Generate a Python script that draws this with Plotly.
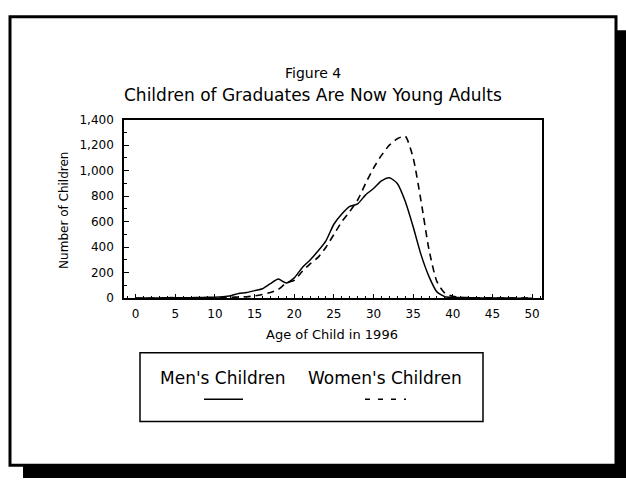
import plotly.graph_objects as go

# ---- data ----
ages = list(range(0, 51))
mens_children = [2, 2, 3, 3, 5, 5, 4, 5, 6, 7,
                 8, 12, 20, 38, 45, 60, 75, 115, 150, 120,
                 160, 240, 300, 370, 450, 580, 660, 720, 740, 810,
                 860, 920, 945, 900, 760, 560, 340, 170, 50, 12,
                 8, 5, 4, 3, 3, 3, 2, 2, 1, 1, 1]
womens_children = [0, 0, 0, 0, 1, 1, 1, 1, 2, 2,
                   3, 5, 8, 10, 12, 18, 30, 45, 70, 120,
                   140, 210, 270, 320, 400, 500, 600, 680, 770, 900,
                   1020, 1120, 1200, 1250, 1270, 1100, 760, 380, 130, 40,
                   15, 8, 5, 4, 3, 3, 2, 2, 1, 1, 1]
x_ticks = list(range(0, 51, 5))
y_ticks = list(range(0, 1401, 200))

title1 = "Figure 4"
title2 = "Children of Graduates Are Now Young Adults"
x_title = "Age of Child in 1996"
y_title = "Number of Children"
series_names = ["Men's Children", "Women's Children"]

W, H = 626, 481
def px(x):
    return x / W
def py(y):
    return 1 - y / H

FONT = "DejaVu Sans"

fig = go.Figure()
fig.add_trace(go.Scatter(x=ages, y=mens_children, mode="lines", name=series_names[0],
                         line=dict(color="black", width=1.5, shape="spline", smoothing=0.6)))
fig.add_trace(go.Scatter(x=ages, y=womens_children, mode="lines", name=series_names[1],
                         line=dict(color="black", width=1.6, dash="7px,5px", shape="spline", smoothing=0.6)))

plot_l, plot_r, plot_t, plot_b = 124, 542, 116, 300

fig.update_layout(
    width=W, height=H, autosize=False,
    margin=dict(l=0, r=0, t=0, b=0, pad=0),
    paper_bgcolor="white", plot_bgcolor="white",
    showlegend=False,
    font=dict(family=FONT, color="black", size=12),
    xaxis=dict(domain=[px(plot_l), px(plot_r)], range=[-1.47, 51.25],
               tickvals=x_ticks, ticks="inside", ticklen=5, tickwidth=1.2, tickcolor="black",
               minor=dict(dtick=1, tick0=0, ticks="inside", ticklen=3, tickwidth=1, tickcolor="black"),
               showgrid=False, zeroline=False, showline=True, linecolor="black", linewidth=1.5,
               mirror=True, ticklabelstandoff=4,
               tickfont=dict(family=FONT, size=12)),
    yaxis=dict(domain=[py(plot_b), py(plot_t)], range=[0, 1400],
               tickvals=y_ticks, tickformat=",d", ticks="inside", ticklen=5, tickwidth=1.2,
               tickcolor="black",
               minor=dict(dtick=100, tick0=0, ticks="inside", ticklen=3, tickwidth=1, tickcolor="black"),
               showgrid=False, zeroline=False, showline=True, linecolor="black", linewidth=1.5,
               mirror=True, ticklabelstandoff=6,
               tickfont=dict(family=FONT, size=12)),
)

shapes = [
    # drop shadow of frame
    dict(type="rect", xref="paper", yref="paper", x0=px(23), x1=px(630), y0=py(24), y1=py(485),
         fillcolor="black", line=dict(width=0), layer="below"),
    # frame
    dict(type="rect", xref="paper", yref="paper", x0=px(10), x1=px(616), y0=py(10), y1=py(472),
         fillcolor="white", line=dict(color="black", width=3), layer="below"),
    # legend box
    dict(type="rect", xref="paper", yref="paper", x0=px(140), x1=px(483), y0=py(356), y1=py(427),
         fillcolor="rgba(0,0,0,0)", line=dict(color="black", width=1.5)),
    # legend samples
    dict(type="line", xref="paper", yref="paper", x0=px(204), x1=px(243), y0=py(404), y1=py(404),
         line=dict(color="black", width=1.5)),
    dict(type="line", xref="paper", yref="paper", x0=px(365), x1=px(406), y0=py(404), y1=py(404),
         line=dict(color="black", width=1.5, dash="5px,8px")),
]
fig.update_layout(shapes=shapes)

def ann(text, x, y, size, angle=0, weight="normal"):
    return dict(text=text, xref="paper", yref="paper", x=px(x), y=py(y),
                xanchor="center", yanchor="middle", showarrow=False, textangle=angle,
                font=dict(family=FONT, size=size, color="black", weight=weight))

fig.update_layout(annotations=[
    ann(title1, 313, 68, 14),
    ann(title2, 313, 91, 17),
    ann(x_title, 332, 337, 13),
    ann(y_title, 64, 210, 12, angle=-90),
    ann(series_names[0], 223, 382, 17),
    ann(series_names[1], 385, 382, 17),
])

fig.write_html("out.html", config={"displayModeBar": False},
               post_script="document.body.style.margin='0';document.body.style.padding='0';")
